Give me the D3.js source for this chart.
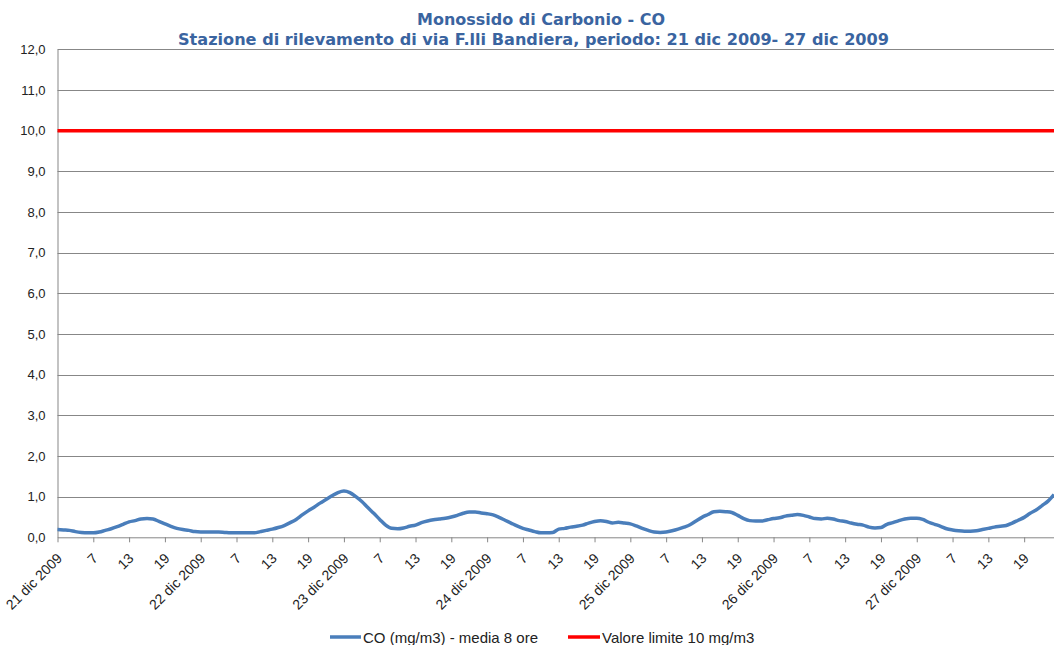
<!DOCTYPE html>
<html><head><meta charset="utf-8">
<script src="https://cdn.jsdelivr.net/npm/d3@7"></script>
<style>html,body{margin:0;padding:0;background:#fff;overflow:hidden}</style>
</head><body>
<svg id="c" width="1054" height="645"></svg>
<script>
const titleLines = ["Monossido di Carbonio - CO", "Stazione di rilevamento di via F.lli Bandiera, periodo: 21 dic 2009- 27 dic 2009"];
const days = ["21 dic 2009", "22 dic 2009", "23 dic 2009", "24 dic 2009", "25 dic 2009", "26 dic 2009", "27 dic 2009"];
const hours = [1,2,3,4,5,6,7,8,9,10,11,12,13,14,15,16,17,18,19,20,21,22,23,24];
const coValues = [
 0.19,0.18,0.17,0.14,0.12,0.11,0.11,0.13,0.17,0.21,0.26,0.32,0.38,0.41,0.45,0.46,0.45,0.39,0.33,0.27,0.22,0.19,0.17,0.14,
 0.13,0.13,0.13,0.13,0.12,0.11,0.11,0.11,0.11,0.11,0.14,0.17,0.20,0.24,0.29,0.36,0.44,0.55,0.65,0.74,0.84,0.93,1.02,1.10,
 1.14,1.10,1.00,0.88,0.73,0.59,0.44,0.30,0.22,0.21,0.23,0.27,0.30,0.36,0.40,0.43,0.45,0.47,0.50,0.54,0.59,0.62,0.62,0.60,
 0.58,0.55,0.49,0.42,0.35,0.28,0.22,0.18,0.14,0.11,0.11,0.12,0.20,0.22,0.25,0.27,0.30,0.35,0.39,0.41,0.39,0.35,0.37,0.35,
 0.33,0.28,0.22,0.17,0.13,0.12,0.13,0.16,0.20,0.25,0.31,0.40,0.49,0.56,0.63,0.64,0.63,0.61,0.54,0.46,0.41,0.40,0.40,0.43,
 0.46,0.48,0.52,0.54,0.56,0.54,0.50,0.46,0.45,0.47,0.45,0.41,0.39,0.35,0.32,0.30,0.25,0.23,0.24,0.32,0.36,0.41,0.45,0.47,
 0.47,0.44,0.37,0.32,0.27,0.21,0.18,0.16,0.15,0.15,0.16,0.19,0.22,0.25,0.27,0.29,0.35,0.42,0.49,0.59,0.67,0.78,0.89,1.05];
const limitValue = 10;
const yTicks = [0,1,2,3,4,5,6,7,8,9,10,11,12];
const legendLabels = ["CO (mg/m3) - media 8 ore", "Valore limite 10 mg/m3"];
const colors = {co:"#4A7EBB", limit:"#FF0000", title:"#3A64A0", grid:"#878787"};

const categories = [];
days.forEach(d => hours.forEach(h => categories.push({day:d, hour:h})));

const svg = d3.select("#c");
const M = {left:57.5, right:1054, top:49.3, bottom:537.3};

const x = d3.scaleLinear().domain([0, categories.length - 1]).range([M.left, M.right]);
const y = d3.scaleLinear().domain([0, 12]).range([M.bottom, M.top]);

// title
const tt = svg.append("g").attr("font-family","Tahoma, 'DejaVu Sans', sans-serif").attr("font-weight","bold").attr("fill",colors.title).attr("text-anchor","middle");
tt.append("text").attr("x",541).attr("y",25).attr("font-size",16).attr("textLength",248).attr("lengthAdjust","spacingAndGlyphs").text(titleLines[0]);
tt.append("text").attr("x",533.5).attr("y",45).attr("font-size",16).attr("textLength",711).attr("lengthAdjust","spacingAndGlyphs").text(titleLines[1]);

// gridlines
svg.append("g").selectAll("line").data(yTicks.filter(d=>d>0)).join("line")
  .attr("x1",M.left).attr("x2",M.right).attr("y1",d=>Math.round(y(d))+0.5).attr("y2",d=>Math.round(y(d))+0.5)
  .attr("stroke",colors.grid).attr("stroke-width",1);

// y axis
const yAxis = d3.axisLeft(y).tickValues(yTicks).tickSize(0).tickPadding(12)
  .tickFormat(d => d3.format(".1f")(d).replace(".", ","));
const gy = svg.append("g").attr("transform",`translate(${M.left},0)`).call(yAxis);
gy.select(".domain").attr("stroke",colors.grid);
gy.selectAll("text").attr("font-family","Arial, 'Liberation Sans', sans-serif").attr("font-size",13).attr("fill","#222");

// x axis
const tickIdx = d3.range(0, categories.length, 6);
const xAxis = d3.axisBottom(x).tickValues(tickIdx).tickSize(5).tickSizeOuter(0)
  .tickFormat(i => categories[i].hour === 1 ? categories[i].day : String(categories[i].hour));
const gx = svg.append("g").attr("transform",`translate(0,${M.bottom})`).call(xAxis);
gx.select(".domain").attr("stroke",colors.grid);
gx.selectAll(".tick line").attr("stroke",colors.grid);
gx.selectAll("text").attr("font-family","Arial, 'Liberation Sans', sans-serif").attr("font-size",14).attr("fill","#222")
  .attr("text-anchor","end").attr("dy",null).attr("y",0)
  .attr("transform","translate(5,22) rotate(-45)");

// limit line
svg.append("path").datum(categories.map(()=>limitValue))
  .attr("d", d3.line().x((d,i)=>x(i)).y(d=>y(d)))
  .attr("fill","none").attr("stroke",colors.limit).attr("stroke-width",3.5);

// CO line
svg.append("path").datum(coValues)
  .attr("d", d3.line().x((d,i)=>x(i)).y(d=>y(d)).curve(d3.curveMonotoneX))
  .attr("fill","none").attr("stroke",colors.co).attr("stroke-width",3.5).attr("stroke-linejoin","round");

// legend
const lg = svg.append("g").attr("font-family","Arial, 'Liberation Sans', sans-serif").attr("font-size",15).attr("fill","#222");
lg.append("line").attr("x1",330).attr("x2",361).attr("y1",637).attr("y2",637).attr("stroke",colors.co).attr("stroke-width",3.5);
lg.append("text").attr("x",363).attr("y",643).text(legendLabels[0]);
lg.append("line").attr("x1",568).attr("x2",600).attr("y1",637).attr("y2",637).attr("stroke",colors.limit).attr("stroke-width",3.5);
lg.append("text").attr("x",602).attr("y",643).text(legendLabels[1]);
</script>
</body></html>
